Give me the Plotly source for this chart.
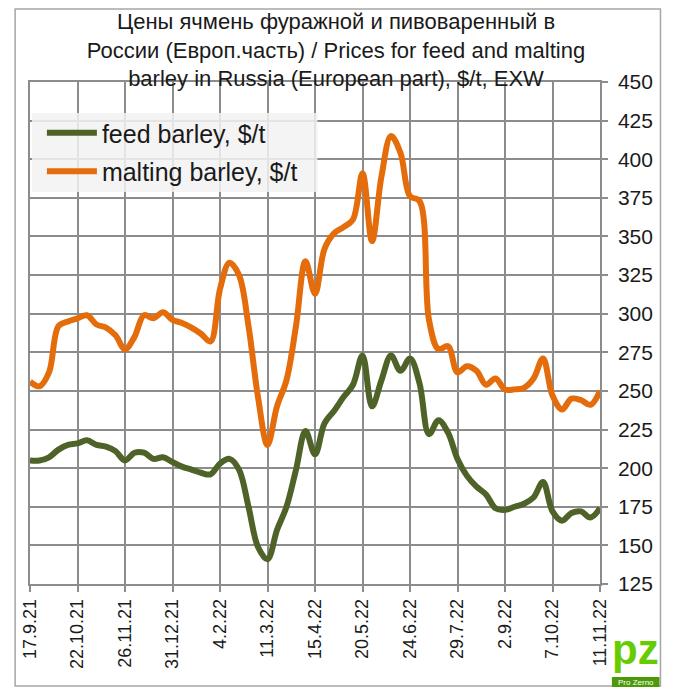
import pandas as pd
import plotly.graph_objects as go

# weekly dates (Fridays) from 17.9.21 to 11.11.22
dates = pd.date_range("2021-09-17", "2022-11-11", freq="7D")

feed_barley = [205, 205, 207, 212, 215, 216, 218, 215, 214, 211,
               205, 210, 210, 206, 207, 204, 201, 199, 197, 196,
               203, 206, 199, 175, 149, 141, 160, 175, 199, 224,
               209, 229, 237, 246, 254, 273, 240, 257, 273, 263,
               271, 255, 222, 231, 223, 206, 195, 188, 183, 174,
               173, 175, 177, 181, 191, 172, 166, 171, 172, 168,
               174]

malting_barley = [256, 253, 262, 292, 295, 297, 299, 293, 291, 286,
                  277, 285, 299, 297, 301, 296, 294, 291, 287, 282,
                  316, 333, 325, 292, 246, 215, 240, 257, 292, 334,
                  313, 342, 352, 356, 361, 391, 347, 389, 415, 404,
                  376, 373, 296, 277, 279, 262, 266, 263, 254, 258,
                  251, 251, 252, 258, 271, 247, 238, 245, 244, 241,
                  250]

tick_dates = pd.date_range("2021-09-17", "2022-11-11", freq="35D")
tick_labels = ["17.9.21", "22.10.21", "26.11.21", "31.12.21", "4.2.22",
               "11.3.22", "15.4.22", "20.5.22", "24.6.22", "29.7.22",
               "2.9.22", "7.10.22", "11.11.22"]

title_lines = ["Цены ячмень фуражной и пивоваренный в",
               "России (Европ.часть) / Prices for feed and malting",
               "barley in Russia (European part), $/t, EXW"]

GREEN = "#4f6228"
ORANGE = "#e46c0a"
GRID = "#8c8c8c"
NARROW = "Liberation Sans Narrow, Arial Narrow, Liberation Sans, Arial, sans-serif"
SANS = "Liberation Sans, Arial, sans-serif"

fig = go.Figure()
fig.add_trace(go.Scatter(x=dates, y=feed_barley, name="feed barley, $/t",
                         mode="lines", legendgroup="a",
                         line=dict(color=GREEN, width=6, shape="spline", smoothing=1.0)))
fig.add_trace(go.Scatter(x=dates, y=malting_barley, name="malting barley, $/t",
                         mode="lines", legendgroup="b",
                         line=dict(color=ORANGE, width=6, shape="spline", smoothing=1.0)))

# page has an 8px body margin: figure is drawn at (8, 8) inside the window
OFF = 8
W, H = 673 - OFF, 687 - OFF
PL, PR, PT, PB = 25, 600, 82, 584          # plot area in window pixels
L, R, T, B = PL - OFF, W - (PR - OFF), PT - OFF, H - (PB - OFF)
pw, ph = PR - PL, PB - PT


def px(x):
    return (x - PL) / pw


def py(y):
    return (PB - y) / ph


fig.update_layout(
    width=W, height=H,
    margin=dict(l=L, r=R, t=T, b=B),
    paper_bgcolor="white", plot_bgcolor="white",
    title=dict(text="<br>".join(title_lines), x=(336 - OFF) / W, xanchor="center",
               y=1 - 21 / H, yanchor="top",
               font=dict(family=NARROW, size=22, color="#1a1a1a")),
    showlegend=True,
    legend=dict(x=px(37), y=py(110), xanchor="left", yanchor="top",
                bgcolor="rgba(0,0,0,0)", borderwidth=0,
                font=dict(family=SANS, size=25, color="#1a1a1a"),
                traceorder="grouped", tracegroupgap=3, itemwidth=50),
    xaxis=dict(range=[dates[0], dates[-1]], tickvals=tick_dates, ticktext=tick_labels,
               tickangle=-90, ticks="outside", ticklen=6, tickcolor=GRID, tickwidth=1.5,
               showgrid=True, gridcolor=GRID, gridwidth=1.5,
               showline=True, linecolor=GRID, linewidth=1.5, mirror=True,
               tickfont=dict(family=SANS, size=18, color="#1a1a1a")),
    yaxis=dict(range=[125, 450], dtick=25, tick0=125, side="right",
               ticks="outside", ticklen=6, tickcolor=GRID, tickwidth=1.5,
               ticklabelstandoff=6,
               showgrid=True, gridcolor=GRID, gridwidth=1.5,
               showline=True, linecolor=GRID, linewidth=1.5, mirror=True,
               zeroline=False,
               tickfont=dict(family=NARROW, size=21, color="#1a1a1a")),
)

# legend background box (semi-transparent, gridlines show through)
fig.add_shape(type="rect", xref="paper", yref="paper", layer="above",
              x0=px(27), x1=px(315), y0=py(192), y1=py(113),
              line=dict(width=0), fillcolor="rgba(242,242,242,0.85)")

# outer chart border
fig.add_shape(type="rect", xref="paper", yref="paper",
              x0=px(10), x1=px(661), y0=py(686), y1=py(9),
              line=dict(color="#a6a6a6", width=1.5), fillcolor="rgba(0,0,0,0)")

# logo (Pro Zerno)
fig.add_shape(type="rect", xref="paper", yref="paper",
              x0=px(612), x1=px(660), y0=py(687), y1=py(677),
              line=dict(width=0), fillcolor="#4c9a0a")
fig.add_annotation(xref="paper", yref="paper", x=px(636), y=py(650),
                   xanchor="center", yanchor="middle",
                   text="<b>pz</b>", showarrow=False,
                   font=dict(family=SANS, size=42, color="#66cc00"))
fig.add_annotation(xref="paper", yref="paper", x=px(636), y=py(682),
                   xanchor="center", yanchor="middle",
                   text="Pro Zerno", showarrow=False,
                   font=dict(family=SANS, size=8, color="white"))

fig.write_html("out.html")
